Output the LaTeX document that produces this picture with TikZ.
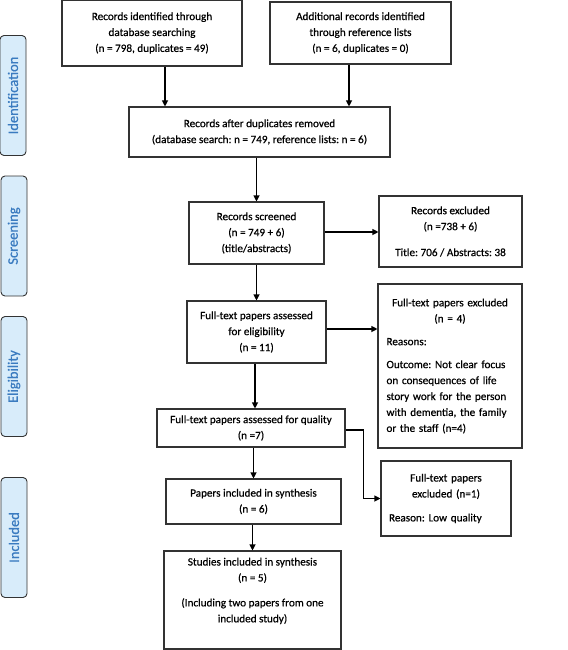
\documentclass[tikz,border=0pt]{standalone}
\usepackage{fontspec}
\setmainfont{Carlito}[FakeBold=0.6]
\frenchspacing
\usetikzlibrary{arrows.meta,calc}
\definecolor{sidefill}{HTML}{D8ECFA}
\definecolor{sidetext}{HTML}{3A7BC0}
\definecolor{boxline}{HTML}{333333}
\tikzset{
  box/.style={draw=boxline, line width=1.1bp, fill=white, inner sep=0pt, align=center,
    font=\fontsize{11.2}{16}\selectfont},
  leftbox/.style={draw=boxline, line width=1.1bp, fill=white, inner sep=0pt,
    font=\fontsize{11.2}{16}\selectfont},
  side/.style={draw=black!80, line width=0.9bp, fill=sidefill, rounded corners=4bp,
    minimum width=26bp, minimum height=120bp, inner sep=0pt},
  sidelab/.style={rotate=90, text=sidetext, font=\fontsize{14.5}{16}\selectfont},
  arr/.style={draw=black, line width=1.1bp, -{Triangle[length=6bp,width=6bp]}},
}
\begin{document}
\begin{tikzpicture}[x=1bp,y=-1bp]
\useasboundingbox (0,0) rectangle (568,650);
% side labels
\node[side] (s1) at (13,95.5) {};
\node[sidelab] (s1t) at (s1.center) {Identification};
\node[side] (s2) at (14,236) {};
\node[sidelab] (s2t) at (s2.center) {Screening};
\node[side] (s3) at (14,376.5) {};
\node[sidelab] (s3t) at (s3.center) {Eligibility};
\node[side] (s4) at (14,537.5) {};
\node[sidelab] (s4t) at (s4.center) {Included};
% boxes
\node[box, minimum width=180bp, minimum height=66bp] (A) at (152,33)
  {Records identified through\\database searching\\(n = 798, duplicates = 49)};
\node[box, minimum width=181bp, minimum height=62bp] (B) at (360.5,33)
  {Additional records identified\\through reference lists\\(n = 6, duplicates = 0)};
\node[box, minimum width=261bp, minimum height=50bp] (C) at (259.5,132)
  {Records after duplicates removed\\(database search: n = 749, reference lists: n = 6)};
\node[box, minimum width=135bp, minimum height=62bp] (D) at (256.5,233)
  {Records screened\\(n = 749 + 6)\\(title/abstracts)};
\node[box, minimum width=143bp, minimum height=71bp] (E) at (450.5,231.5)
  {Records excluded\\(n =738 + 6)\\[10bp]Title: 706 / Abstracts: 38};
\node[box, minimum width=139bp, minimum height=62bp] (F) at (256.5,332)
  {Full-text papers assessed\\for eligibility\\(n = 11)};
\node[leftbox, minimum width=144bp, minimum height=164bp, text width=127bp] (G) at (450,366)
  {{\centering Full-text papers excluded\\(n = 4)\par}\vspace{7bp}\raggedright Reasons:\par\vspace{7bp}Outcome: Not clear focus on consequences of life story work for the person with dementia, the family or the staff (n=4)\par\vspace{8bp}};
\node[box, minimum width=188bp, minimum height=38bp] (H) at (251,428)
  {Full-text papers assessed for quality\\(n =7)};
\node[box, minimum width=175bp, minimum height=45bp] (I) at (253.5,501.5)
  {Papers included in synthesis\\(n = 6)};
\node[leftbox, minimum width=130bp, minimum height=75bp, text width=114bp] (J) at (446,498.5)
  {{\centering Full-text papers\\excluded (n=1)\par}\vspace{8bp}\raggedright Reason: Low quality\par\vspace{4bp}};
\node[box, minimum width=177bp, minimum height=98bp] (K) at (252.5,600)
  {Studies included in synthesis\\(n = 5)\\[9bp](Including two papers from one\\included study)\\[4bp]};
% connectors
\draw[arr] ([xshift=13bp]A.south) -- ([xshift=13bp]A.south |- C.north);
\draw[arr] ([xshift=-11.5bp]B.south) -- ([xshift=-11.5bp]B.south |- C.north);
\draw[arr] (D.north |- C.south) -- (D.north);
\draw[arr] ([yshift=1bp]D.east) -- ([yshift=1bp]D.east -| E.west);
\draw[arr] (D.south) -- (F.north);
\draw[arr] ([yshift=3bp]F.east) -- ([yshift=3bp]F.east -| G.west);
\draw[arr] ([xshift=4bp]H.north |- F.south) -- ([xshift=4bp]H.north);
\draw[arr] (I.north |- H.south) -- (I.north);
\draw[arr] (K.north |- I.south) -- (K.north);
\draw[arr] ([yshift=-2bp]H.east) -- ++(18bp,0) |- (J.west);
\end{tikzpicture}
\end{document}
